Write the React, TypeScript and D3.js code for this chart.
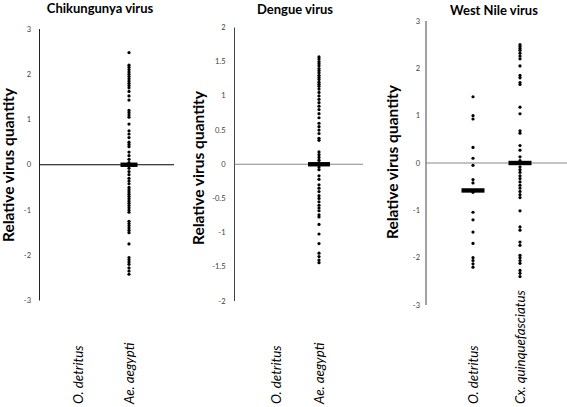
import React from "react";
import * as d3 from "d3";

// ---- Data ----
const chikCategories = ["O. detritus", "Ae. aegypti"];
const chikAeAegypti = [
  2.48, 2.2, 2.15, 2.1, 2.05, 2.0, 1.95, 1.9, 1.85, 1.8, 1.75, 1.7, 1.62, 1.52, 1.43,
  1.2, 1.15, 1.1, 1.05, 0.9, 0.75, 0.68, 0.6, 0.5, 0.45, 0.4, 0.28, 0.2, 0.12, 0.05,
  0.0, -0.03, -0.08, -0.15, -0.22, -0.3, -0.36, -0.42, -0.5, -0.55, -0.6, -0.65, -0.7,
  -0.75, -0.8, -0.85, -0.9, -0.95, -1.0, -1.05, -1.25, -1.3, -1.35, -1.4, -1.45, -1.5,
  -1.75, -2.05, -2.1, -2.15, -2.2, -2.28, -2.35, -2.42,
];
const chikMedians = [null, 0];
const chikTicks = [3, 2, 1, 0, -1, -2, -3];

const dengueCategories = ["O. detritus", "Ae. aegypti"];
const dengueAeAegypti = [
  1.57, 1.54, 1.5, 1.47, 1.44, 1.4, 1.37, 1.34, 1.3, 1.27, 1.24, 1.2, 1.17, 1.14, 1.1,
  1.05, 1.0, 0.95, 0.9, 0.85, 0.8, 0.74, 0.68, 0.6, 0.55, 0.5, 0.45, 0.38, 0.35, 0.18,
  0.14, 0.1, 0.06, 0.02, 0, -0.04, -0.08, -0.17, -0.22, -0.3, -0.35, -0.4, -0.46, -0.5,
  -0.55, -0.6, -0.64, -0.68, -0.74, -0.77, -0.88, -1.02, -1.16, -1.3, -1.35, -1.4, -1.44,
];
const dengueMedians = [null, 0];
const dengueTicks = [2, 1.5, 1, 0.5, 0, -0.5, -1, -1.5, -2];

const wnvCategories = ["O. detritus", "Cx. quinquefasciatus"];
const wnvODetritus = [
  1.4, 1.0, 0.93, 0.33, 0.1, -0.05, -0.35, -0.42, -0.62, -1.04, -1.2, -1.46, -1.7, -2.0,
  -2.06, -2.13, -2.2,
];
const wnvCxQuinque = [
  2.5, 2.46, 2.42, 2.38, 2.32, 2.26, 2.2, 2.05, 1.85, 1.8, 1.7, 1.66, 1.18, 1.04, 0.68,
  0.63, 0.37, 0.27, 0.13, 0.05, 0, -0.08, -0.14, -0.2, -0.27, -0.33, -0.4, -0.47, -0.53,
  -0.6, -0.67, -0.73, -1.01, -1.35, -1.42, -1.67, -1.74, -1.95, -2.0, -2.06, -2.12, -2.27,
  -2.33, -2.4,
];
const wnvMedians = [-0.58, 0];
const wnvTicks = [3, 2, 1, 0, -1, -2, -3];

const FONT = "Lato, 'Open Sans', sans-serif";

type PanelProps = {
  title: string;
  titleX: number;
  titleY: number;
  categories: string[];
  series: number[][];
  medians: (number | null)[];
  ticks: number[];
  domain: [number, number];
  axisX: number;
  top: number;
  bottom: number;
  zeroEnd: number;
  zeroColor: string;
  axisColor: string;
  catX: [number, number];
  labelX: number;
  labelY: number;
  tickRight: number;
  barHalf: number;
};

function Panel(p: PanelProps) {
  const y = d3.scaleLinear().domain(p.domain).range([p.bottom, p.top]);
  const x = d3.scalePoint<string>().domain(p.categories).range(p.catX);
  return (
    <g>
      <text
        x={p.titleX}
        y={p.titleY}
        textAnchor="middle"
        fontFamily={FONT}
        fontWeight={700}
        fontSize={13}
        fill="#000"
      >
        {p.title}
      </text>
      <text
        transform={`translate(${p.labelX},${p.labelY}) rotate(-90)`}
        textAnchor="middle"
        dominantBaseline="central"
        fontFamily={FONT}
        fontWeight={700}
        fontSize={15.5}
        fill="#000"
      >
        Relative virus quantity
      </text>
      <line x1={p.axisX} x2={p.axisX} y1={p.top} y2={p.bottom} stroke={p.axisColor} strokeWidth={1} />
      <line x1={p.axisX} x2={p.zeroEnd} y1={y(0)} y2={y(0)} stroke={p.zeroColor} strokeWidth={1.2} />
      {p.ticks.map((t) => (
        <text
          key={t}
          x={p.tickRight}
          y={y(t)}
          textAnchor="end"
          dominantBaseline="central"
          fontFamily={FONT}
          fontSize={7.5}
          fill="#404040"
        >
          {String(t)}
        </text>
      ))}
      {p.series.map((vals, i) =>
        vals.map((v, j) => (
          <circle key={`${i}-${j}`} cx={x(p.categories[i])} cy={y(v)} r={1.6} fill="#000" />
        ))
      )}
      {p.medians.map((m, i) =>
        m === null ? null : (
          <rect
            key={`m${i}`}
            x={(x(p.categories[i]) as number) - p.barHalf}
            y={y(m) - 2.2}
            width={p.barHalf * 2}
            height={4.4}
            fill="#000"
          />
        )
      )}
      {p.categories.map((c) => (
        <text
          key={c}
          transform={`translate(${x(c)},404) rotate(-90)`}
          textAnchor="start"
          dominantBaseline="central"
          fontFamily={FONT}
          fontStyle="italic"
          fontSize={13.3}
          fill="#000"
        >
          {c}
        </text>
      ))}
    </g>
  );
}

export default function App() {
  return (
    <svg
      width={567}
      height={407}
      style={{ position: "absolute", left: 0, top: 0, background: "#fff" }}
    >
      <rect width={567} height={407} fill="#fff" />
      <Panel
        title="Chikungunya virus"
        titleX={100}
        titleY={13}
        categories={chikCategories}
        series={[[], chikAeAegypti]}
        medians={chikMedians}
        ticks={chikTicks}
        domain={[-3, 3]}
        axisX={39.5}
        top={29}
        bottom={300.5}
        zeroEnd={174}
        zeroColor="#000"
        axisColor="#222"
        catX={[78, 129]}
        labelX={8}
        labelY={165}
        tickRight={31}
        barHalf={8.5}
      />
      <Panel
        title="Dengue virus"
        titleX={295}
        titleY={13.5}
        categories={dengueCategories}
        series={[[], dengueAeAegypti]}
        medians={dengueMedians}
        ticks={dengueTicks}
        domain={[-2, 2]}
        axisX={234.5}
        top={27.5}
        bottom={301}
        zeroEnd={363}
        zeroColor="#888"
        axisColor="#444"
        catX={[276, 319]}
        labelX={198}
        labelY={168}
        tickRight={225.5}
        barHalf={11}
      />
      <Panel
        title="West Nile virus"
        titleX={494}
        titleY={15}
        categories={wnvCategories}
        series={[wnvODetritus, wnvCxQuinque]}
        medians={wnvMedians}
        ticks={wnvTicks}
        domain={[-3, 3]}
        axisX={426}
        top={21}
        bottom={305}
        zeroEnd={567}
        zeroColor="#888"
        axisColor="#444"
        catX={[473, 520]}
        labelX={392}
        labelY={162}
        tickRight={420}
        barHalf={11.5}
      />
    </svg>
  );
}
